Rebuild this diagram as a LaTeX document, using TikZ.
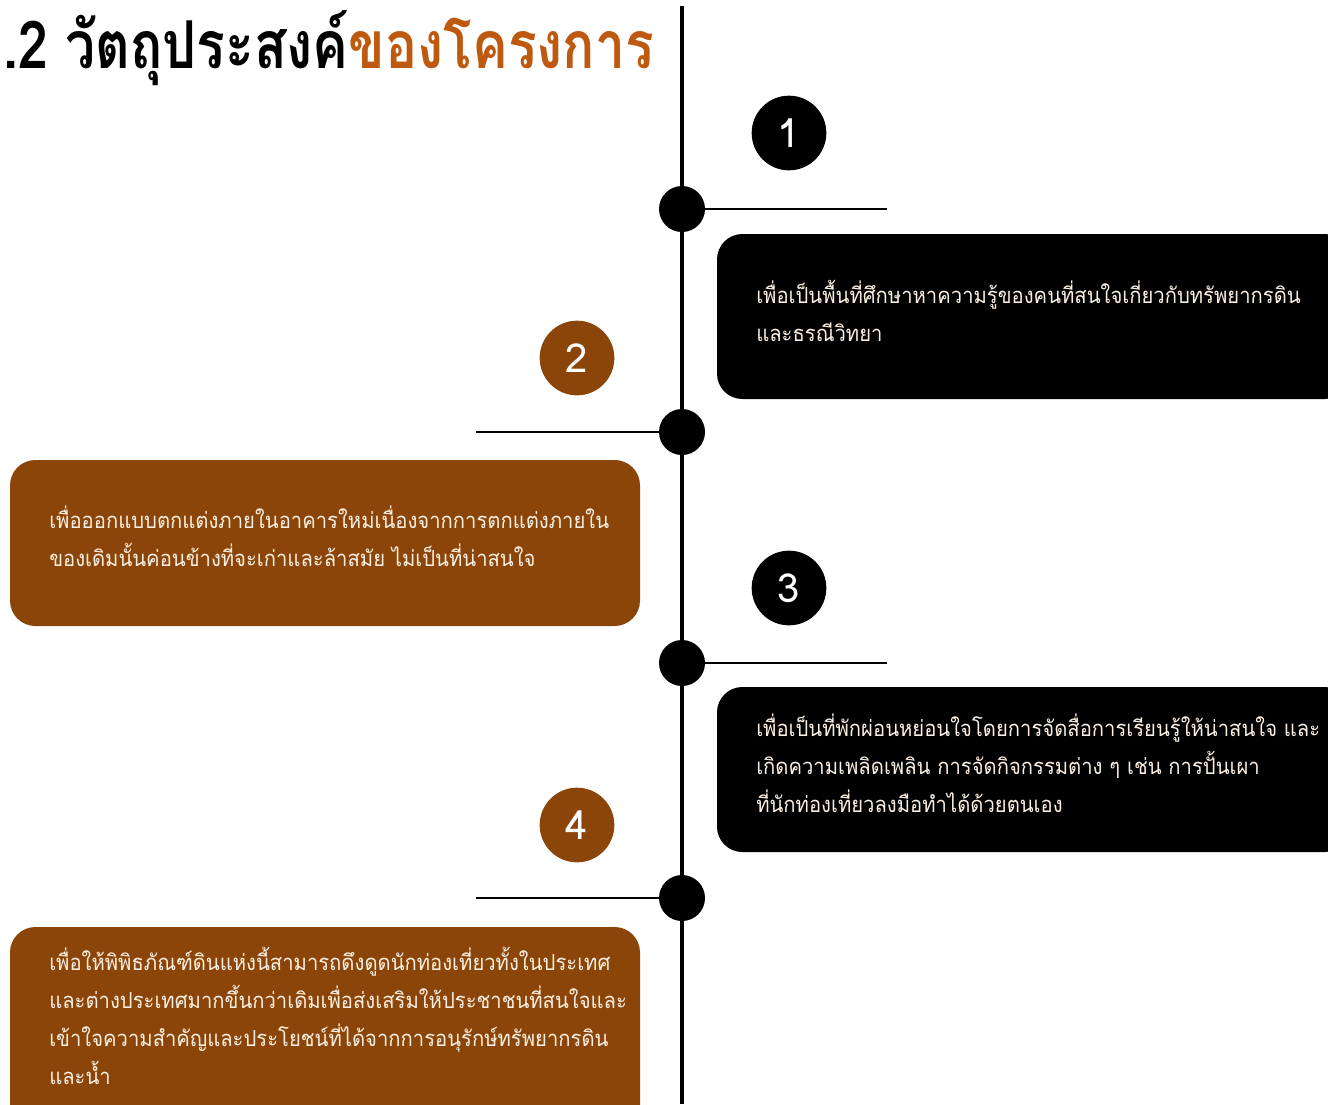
\documentclass[tikz,border=0pt]{standalone}
\usepackage{fontspec}
\setmainfont[Script=Thai,FakeStretch=0.92]{Loma}
\newfontfamily\titlefont[Script=Thai,FakeStretch=0.81]{Loma}
\newfontfamily\numfont[Script=Thai]{Loma}
\definecolor{brownbox}{HTML}{8B4508}
\definecolor{titleorange}{HTML}{BE5A10}
\definecolor{cream}{HTML}{FBEFE3}
\begin{document}
\begin{tikzpicture}[x=0.75pt,y=-0.75pt,
  spine/.style={line width=2.4pt},
  arm/.style={line width=1.6pt},
  dot/.style={circle,fill=black,minimum size=34.5pt,inner sep=0pt},
  numblack/.style={circle,fill=black,minimum size=56pt,inner sep=0pt,text=white,font=\numfont\fontsize{30}{30}\selectfont},
  numbrown/.style={circle,fill=brownbox,minimum size=56pt,inner sep=0pt,text=white,font=\numfont\fontsize{30}{30}\selectfont},
  boxblack/.style={fill=black,rounded corners=19pt},
  boxbrown/.style={fill=brownbox,rounded corners=19pt},
  bodytext/.style={anchor=base west,inner sep=0pt,text=cream,font=\fontsize{16.5}{28.5}\selectfont}
]
\useasboundingbox (0,0) rectangle (1328,1104);
\clip (0,0) rectangle (1328,1104);
% title
\node[anchor=base west,inner sep=0pt,font=\titlefont\bfseries\fontsize{49.5}{49.5}\selectfont] (title) at (3,68) {.2 วัตถุประสงค์\textcolor{titleorange}{ของโครงการ}};
% boxes
\fill[boxblack] (717,234) rectangle (1350,399);
\fill[boxbrown] (10,460) rectangle (640,626);
\fill[boxblack] (717,687) rectangle (1350,852);
\fill[boxbrown] (10,927) rectangle (640,1130);
% spine
\coordinate (top) at (682,6);
\coordinate (bottom) at (682,1104);
\draw[spine] (top) -- (bottom);
% dots
\node[dot] (d1) at (682,209) {};
\node[dot] (d2) at (682,432) {};
\node[dot] (d3) at (682,663) {};
\node[dot] (d4) at (682,898) {};
\coordinate (e1) at (887,209);
\coordinate (e2) at (476,432);
\coordinate (e3) at (887,663);
\coordinate (e4) at (476,898);
\draw[arm] (d1.center) -- (e1);
\draw[arm] (d2.center) -- (e2);
\draw[arm] (d3.center) -- (e3);
\draw[arm] (d4.center) -- (e4);
% numbers
\node[numblack] (n1) at (789,133) {1};
\node[numbrown] (n2) at (577,358) {2};
\node[numblack] (n3) at (789,588) {3};
\node[numbrown] (n4) at (577,825) {4};
% texts
\node[bodytext] (t1) at (756,303) {\parbox[t]{560pt}{เพื่อเป็นพื้นที่ศึกษาหาความรู้ของคนที่สนใจเกี่ยวกับทรัพยากรดิน\\และธรณีวิทยา}};
\node[bodytext] (t2) at (49,528) {\parbox[t]{560pt}{เพื่อออกแบบตกแต่งภายในอาคารใหม่เนื่องจากการตกแต่งภายใน\\ของเดิมนั้นค่อนข้างที่จะเก่าและล้าสมัย ไม่เป็นที่น่าสนใจ}};
\node[bodytext] (t3) at (756,736) {\parbox[t]{560pt}{เพื่อเป็นที่พักผ่อนหย่อนใจโดยการจัดสื่อการเรียนรู้ให้น่าสนใจ และ\\เกิดความเพลิดเพลิน การจัดกิจกรรมต่าง ๆ เช่น การปั้นเผา\\ที่นักท่องเที่ยวลงมือทำได้ด้วยตนเอง}};
\node[bodytext] (t4) at (49,970) {\parbox[t]{560pt}{เพื่อให้พิพิธภัณฑ์ดินแห่งนี้สามารถดึงดูดนักท่องเที่ยวทั้งในประเทศ\\และต่างประเทศมากขึ้นกว่าเดิมเพื่อส่งเสริมให้ประชาชนที่สนใจและ\\เข้าใจความสำคัญและประโยชน์ที่ได้จากการอนุรักษ์ทรัพยากรดิน\\และน้ำ}};
\end{tikzpicture}
\end{document}
